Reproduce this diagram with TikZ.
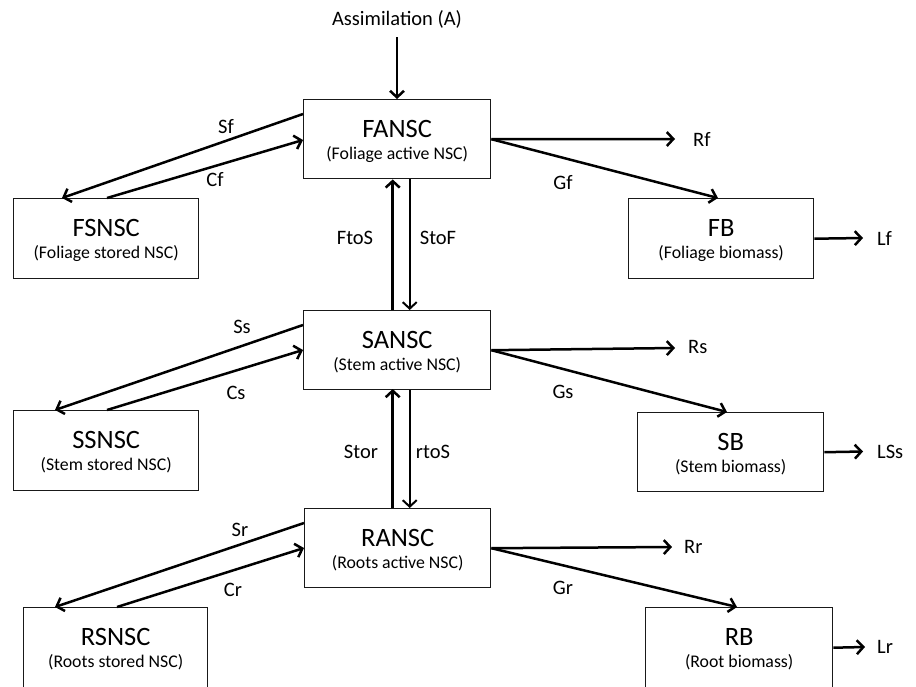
\documentclass[tikz,border=0pt]{standalone}
\usepackage{fontspec}
\setmainfont{Carlito}
\usetikzlibrary{arrows.meta,calc}
\tikzset{
  box/.style={draw=black!90, line width=1.4pt, rectangle, inner sep=0pt, anchor=north west,
              minimum width=186pt, minimum height=79pt},
  ttl/.style={font=\fontsize{26.5}{30}\selectfont, anchor=base, inner sep=0pt},
  sub/.style={font=\fontsize{17.8}{21}\selectfont, anchor=base, inner sep=0pt},
  lbl/.style={font=\fontsize{20.5}{24}\selectfont, inner sep=0pt},
  arr/.style={line width=2.5pt, -{Straight Barb[length=6.5pt,width=14pt,line width=2.5pt]}},
  arrthin/.style={line width=2pt, -{Straight Barb[length=6.5pt,width=14pt,line width=2pt]}}
}
\begin{document}
\begin{tikzpicture}[x=1pt,y=-1pt]
\clip (0,0) rectangle (916,686);
\fill[white] (0,0) rectangle (916,686);

% boxes
\node[box, minimum width=187pt] (FANSC) at (303,99) {};
\node[box, minimum width=185pt, minimum height=80pt] (FSNSC) at (13,198) {};
\node[box, minimum width=185pt, minimum height=80pt] (FB) at (628,198) {};
\node[box, minimum width=187pt] (SANSC) at (303,310) {};
\node[box, minimum width=185pt, minimum height=80pt] (SSNSC) at (13,410) {};
\node[box, minimum width=186pt, minimum height=79pt] (SB) at (637,412) {};
\node[box, minimum width=186pt] (RANSC) at (304,508) {};
\node[box, minimum width=184pt, minimum height=100pt] (RSNSC) at (23,607) {};
\node[box, minimum width=187pt, minimum height=80pt] (RB) at (645,607) {};

% box texts
\foreach \n/\t/\s in {FANSC/FANSC/(Foliage active NSC), FSNSC/FSNSC/(Foliage stored NSC),
  FB/FB/(Foliage biomass), SANSC/SANSC/(Stem active NSC), SSNSC/SSNSC/(Stem stored NSC),
  SB/SB/(Stem biomass), RANSC/RANSC/(Roots active NSC), RSNSC/RSNSC/(Roots stored NSC),
  RB/RB/(Root biomass)}{
  \node[ttl] (\n-t) at ($(\n.north)+(0,38.5)$) {\t};
  \node[sub] (\n-s) at ($(\n.north)+(0,60)$) {\s};
}

% assimilation
\node[lbl, anchor=base] (A) at (397,25) {Assimilation (A)};
\coordinate (Atop) at (397,37);
\draw[arr] (Atop) -- (Atop |- FANSC.north);

% foliage level
\draw[arr] ($(FANSC.north west)+(0,15)$) -- ($(FSNSC.north west)+(49,0)$);
\draw[arr] ($(FSNSC.north west)+(94,0)$) -- ($(FANSC.north west)+(0,41)$);
\node[lbl] (Sf) at (226,127) {Sf};
\node[lbl] (Cf) at (215,180) {Cf};
\coordinate (Rfend) at (675,139);
\draw[arr] (FANSC.east) -- (Rfend);
\node[lbl, anchor=west] (Rf) at (693,139) {Rf};
\draw[arr] (FANSC.east) -- ($(FB.north west)+(90,0)$);
\node[lbl] (Gf) at (563,183) {Gf};
\coordinate (Lfend) at (863,238);
\draw[arr] (FB.east) -- (Lfend);
\node[lbl, anchor=west] (Lf) at (877,238) {Lf};

% FANSC <-> SANSC
\draw[arr] ($(SANSC.north)+(-4.5,0)$) -- ($(FANSC.south)+(-4.5,0)$);
\draw[arrthin] ($(FANSC.south)+(12.5,0)$) -- ($(SANSC.north)+(12.5,0)$);
\node[lbl] (FtoS) at (355,238) {FtoS};
\node[lbl] (StoF) at (438,238) {StoF};

% stem level
\draw[arr] ($(SANSC.north west)+(0,15)$) -- ($(SSNSC.north west)+(42,0)$);
\draw[arr] ($(SSNSC.north west)+(94,0)$) -- ($(SANSC.north west)+(0,40)$);
\node[lbl] (Ss) at (242,327) {Ss};
\node[lbl] (Cs) at (236,393) {Cs};
\coordinate (Rsend) at (675,348);
\draw[arr] (SANSC.east) -- (Rsend);
\node[lbl, anchor=west] (Rs) at (688,347) {Rs};
\draw[arr] (SANSC.east) -- ($(SB.north west)+(90,0)$);
\node[lbl] (Gs) at (563,392) {Gs};
\coordinate (LSsend) at (863,451.5);
\draw[arr] (SB.east) -- (LSsend);
\node[lbl, anchor=west] (LSs) at (877,451.5) {LSs};

% SANSC <-> RANSC
\draw[arr] ($(RANSC.north)+(-5,0)$) -- ($(SANSC.north)+(-4.5,79)$);
\draw[arrthin] ($(SANSC.south)+(12.5,0)$) -- ($(RANSC.north)+(12,0)$);
\node[lbl] (Stor) at (361,452) {Stor};
\node[lbl] (rtoS) at (433,452) {rtoS};

% root level
\draw[arr] ($(RANSC.north west)+(0,15)$) -- ($(RSNSC.north west)+(32,0)$);
\draw[arr] ($(RSNSC.north west)+(94,0)$) -- ($(RANSC.north west)+(0,40)$);
\node[lbl] (Sr) at (240,530) {Sr};
\node[lbl] (Cr) at (233,590) {Cr};
\coordinate (Rrend) at (672,547);
\draw[arr] (RANSC.east) -- (Rrend);
\node[lbl, anchor=west] (Rr) at (684,547) {Rr};
\draw[arr] (RANSC.east) -- ($(RB.north west)+(92,0)$);
\node[lbl] (Gr) at (563,588) {Gr};
\coordinate (Lrend) at (865,647);
\draw[arr] (RB.east) -- (Lrend);
\node[lbl, anchor=west] (Lr) at (877,647) {Lr};
\end{tikzpicture}
\end{document}
